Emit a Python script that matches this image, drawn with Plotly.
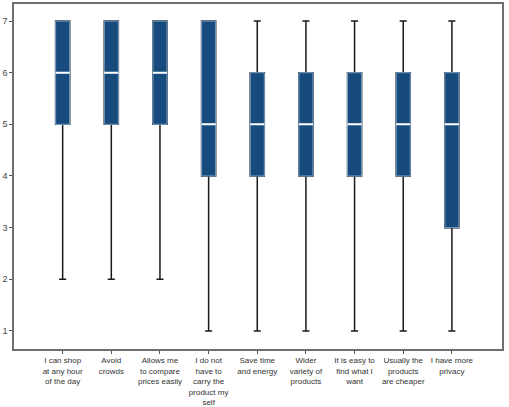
import plotly.graph_objects as go

categories = [
    "I can shop<br>at any hour<br>of the day",
    "Avoid<br>crowds",
    "Allows me<br>to compare<br>prices easily",
    "I do not<br>have to<br>carry the<br>product my<br>self",
    "Save time<br>and energy",
    "Wider<br>variety of<br>products",
    "It is easy to<br>find what I<br>want",
    "Usually the<br>products<br>are cheaper",
    "I have more<br>privacy",
]
lower_whisker = [2, 2, 2, 1, 1, 1, 1, 1, 1]
q1 = [5, 5, 5, 4, 4, 4, 4, 4, 3]
median = [6, 6, 6, 5, 5, 5, 5, 5, 5]
q3 = [7, 7, 7, 7, 6, 6, 6, 6, 6]
upper_whisker = [7, 7, 7, 7, 7, 7, 7, 7, 7]
y_ticks = [1, 2, 3, 4, 5, 6, 7]

BOX_COLOR = "#174b7d"
BOX_W = 0.29

fig = go.Figure()
# whiskers + box (dark outline)
fig.add_trace(go.Box(
    x=categories, q1=q1, median=median, q3=q3,
    lowerfence=lower_whisker, upperfence=upper_whisker,
    width=BOX_W, whiskerwidth=0.5,
    fillcolor=BOX_COLOR, line=dict(color="#1a1a1a", width=1.5),
    showlegend=False, hoverinfo="skip",
))
# box body with light edge
fig.add_trace(go.Box(
    x=categories, q1=q1, median=median, q3=q3,
    lowerfence=q1, upperfence=q3,
    width=BOX_W, whiskerwidth=0,
    fillcolor=BOX_COLOR, line=dict(color="#7fa3c4", width=1),
    showlegend=False, hoverinfo="skip",
))
# white median line
fig.add_trace(go.Box(
    x=categories, q1=median, median=median, q3=median,
    lowerfence=median, upperfence=median,
    width=BOX_W, whiskerwidth=0,
    fillcolor="white", line=dict(color="white", width=2),
    showlegend=False, hoverinfo="skip",
))

fig.update_layout(
    width=509, height=407,
    margin=dict(l=14, r=7, t=4, b=58),
    paper_bgcolor="white", plot_bgcolor="white",
    boxmode="overlay",
    font=dict(family="Liberation Sans, Arial, sans-serif", color="#333333"),
)
fig.update_xaxes(
    range=[-1, 9.03], showgrid=False, zeroline=False, automargin=False,
    showline=True, mirror=True, linecolor="#6e6e6e", linewidth=1.5,
    ticks="outside", ticklen=3, tickcolor="#555555",
    tickfont=dict(size=8, color="#333333"), tickangle=0,
)
fig.update_yaxes(
    range=[0.65, 7.33], tickvals=y_ticks, showgrid=False, zeroline=False, automargin=False,
    showline=True, mirror=True, linecolor="#6e6e6e", linewidth=1.5,
    ticks="outside", ticklen=3, tickcolor="#555555",
    tickfont=dict(size=9, color="#444444"),
)
fig.write_html("out.html")
